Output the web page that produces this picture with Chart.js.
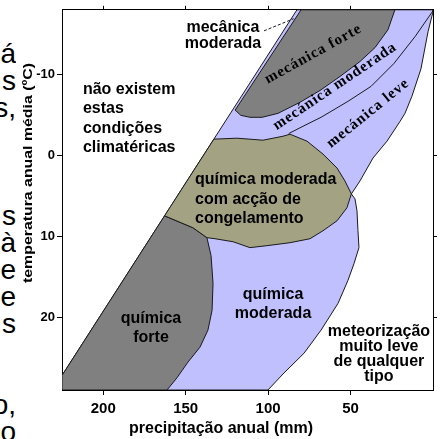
<!DOCTYPE html>
<html><head><meta charset="utf-8">
<script src="https://cdn.jsdelivr.net/npm/chart.js@4.4.0/dist/chart.umd.min.js"></script>
<style>
html,body{margin:0;padding:0;background:#fff;}
#wrap{position:relative;width:442px;height:439px;overflow:hidden;}
#side{position:absolute;left:0;top:0;width:16px;height:439px;overflow:hidden;font-family:"Liberation Sans",Arial,sans-serif;font-size:28px;color:#000;}
#side div{position:absolute;right:0;white-space:nowrap;line-height:28px;}
canvas{position:absolute;left:0;top:0;}
</style></head>
<body><div id="wrap"><div id="side"></div><canvas id="c" width="442" height="439"></canvas></div>
<script>
// ---- axis ranges & ticks ----
const xTickValues = [200, 150, 100, 50];
const yTickValues = [-10, 0, 10, 20];
const xMin = 0, xMax = 225;
const yMin = -18, yMax = 29;

// ---- region boundaries: [precipitation mm, temperature °C] ----
const regionBlue = [[225,29],[225,27.2],[82.5,-18],[0,-18],[0,-17.75],[3.0,-15.3],[7.3,-10.7],[12.8,-7.3],[17,-5.2],[20,-4.2],[27.9,-1.76],[36.4,0.33],[44.3,3.16],[49.5,4.76],[47.3,5.38],[46.1,6.85],[45.5,9.31],[44.9,11.4],[47.9,13.37],[51.6,15.46],[57.6,18.29],[67.9,21.6],[78.2,24.45],[90.4,26.9],[100.1,29],[225,29]];
const regionQuimicaForte = [[225,29],[225,27.2],[162.8,7.47],[145.6,8.94],[137.1,10.17],[134.6,12.39],[133.4,15.83],[134.0,19.16],[136.5,21.6],[141.3,23.7],[148.6,25.55],[155.3,27.5],[161.3,29],[225,29]];
const regionCongelamento = [[132.9,-2.01],[118.9,-2.13],[103.1,-1.88],[91,-2.37],[86.7,-2.62],[76.4,-1.76],[66.7,-0.16],[58.2,1.56],[53.4,3.16],[49.5,4.76],[52.2,6.48],[58.2,8.08],[66.7,9.31],[74.6,10.3],[86.7,10.79],[100.7,11.16],[111,11.4],[121.3,10.67],[132.2,10.3],[137.1,10.17],[145.6,8.94],[162.8,7.47],[132.9,-2.01]];
const regionMecanicaForte = [[120,-5.6],[80,-18],[23.1,-18],[27.3,-15.54],[35.2,-13.32],[44.3,-11.6],[56.4,-9.76],[68.5,-8.03],[80.7,-6.56],[94,-5.2],[103.7,-4.71],[111,-4.71],[116.5,-4.95],[120,-5.6]];
const lineModeradaLeve = [[87.5,-2.7],[77.6,-3.73],[67.9,-4.71],[51.6,-6.68],[37.6,-8.53],[23.7,-11.36],[10.9,-14.68],[0,-17.88]];
const linePointer = [[102.5,-15.4],[84.5,-16.9]];

// ---- labels (text + anchor in data units) ----
const regionLabels = [
  {lines:['mecânica','moderada'], x:127.4, y:-15.9, lh:16, align:'center'},
  {lines:['não existem','estas','condições','climatéricas'], x:212.3, y:-8.28, lh:19.5, align:'left'},
  {lines:['química moderada','com acção de','congelamento'], x:144.3, y:2.92, lh:19.5, align:'left'},
  {lines:['química','forte'], x:171, y:20.02, lh:19, align:'center'},
  {lines:['química','moderada'], x:97, y:17.06, lh:19, align:'center'},
  {lines:['meteorização','muito leve','de qualquer','tipo'], x:32.8, y:21.6, lh:15, align:'center'}
];
const rotatedLabels = [
  {text:'mecánica forte', x:72.5, y:-12.53, angle:-29},
  {text:'mecánica moderada', x:59.4, y:-8.53, angle:-34},
  {text:'mecánica leve', x:39.4, y:-5.2, angle:-39}
];
const xTitle = 'precipitação anual (mm)';
const yTitle = 'temperatura anual média (ºC)';
const sideLines = ['á','s','s,','','','','s','à','e','e','s','','','o,','o'];

// side text fragments
const side = document.getElementById('side');
sideLines.forEach((t,i)=>{ if(!t) return; const d=document.createElement('div'); d.textContent=t; d.style.top=(62+27*i-22)+'px'; side.appendChild(d); });

const F = '"Liberation Sans", Arial, sans-serif';
const pts = a => a.map(p => ({x:p[0], y:p[1]}));
const common = {showLine:true, pointRadius:0, pointHoverRadius:0, tension:0, borderColor:'#1a1a1a', borderWidth:1};

const textPlugin = {
  id:'regionText',
  afterDatasetsDraw(chart){
    const {ctx} = chart; const xs = chart.scales.x, ys = chart.scales.y;
    ctx.save();
    ctx.fillStyle = '#000';
    ctx.textBaseline = 'middle';
    ctx.font = 'bold 16px ' + F;
    regionLabels.forEach(l=>{
      ctx.textAlign = l.align;
      const px = xs.getPixelForValue(l.x), py = ys.getPixelForValue(l.y);
      l.lines.forEach((t,i)=>ctx.fillText(t, px, py + i*l.lh + 1));
    });
    ctx.font = 'bold 15px "Liberation Serif", "Times New Roman", serif';
    ctx.textAlign = 'center';
    try { ctx.letterSpacing = '1px'; } catch(e) {}
    rotatedLabels.forEach(l=>{
      ctx.save();
      ctx.translate(xs.getPixelForValue(l.x), ys.getPixelForValue(l.y));
      ctx.rotate(l.angle*Math.PI/180);
      ctx.fillText(l.text, 0, 0);
      ctx.restore();
    });
    try { ctx.letterSpacing = '0px'; } catch(e) {}
    // axis titles
    const ca = chart.chartArea;
    ctx.font = 'bold 16px ' + F;
    ctx.textAlign = 'center';
    ctx.fillText(xTitle, ca.left + 159, 429);
    ctx.save();
    ctx.translate(29, 173);
    ctx.rotate(-Math.PI/2);
    ctx.font = 'bold 12px ' + F;
    const w = ctx.measureText(yTitle).width;
    ctx.scale(220/w, 1);
    ctx.fillText(yTitle, 0, 0);
    ctx.restore();
    ctx.restore();
  }
};

const axisCommon = (pos, len) => ({
  type:'linear', position:pos,
  grid:{display:true, drawOnChartArea:false, drawTicks:true, tickLength:len, color:'#000', lineWidth:1},
  border:{display:true, color:'#000', width:1}
});

new Chart(document.getElementById('c'), {
  type:'scatter',
  data:{datasets:[
    Object.assign({label:'química moderada / mecânica', data:pts(regionBlue), backgroundColor:'#c0c0ff', fill:'shape', order:10}, common),
    Object.assign({label:'química forte', data:pts(regionQuimicaForte), backgroundColor:'#808080', fill:'shape', order:9}, common),
    Object.assign({label:'química moderada com acção de congelamento', data:pts(regionCongelamento), backgroundColor:'#a3a283', fill:'shape', order:8}, common),
    Object.assign({label:'mecânica forte', data:pts(regionMecanicaForte), backgroundColor:'#808080', fill:'shape', order:7}, common),
    Object.assign({label:'limite', data:pts(lineModeradaLeve), fill:false, order:2}, common),
    Object.assign({label:'seta', data:pts(linePointer), fill:false, borderDash:[3,2], order:1}, common)
  ]},
  options:{
    responsive:false, animation:false, events:[],
    layout:{padding:0},
    plugins:{legend:{display:false}, tooltip:{enabled:false}},
    scales:{
      x: Object.assign(axisCommon('bottom',5), {
        min:xMin, max:xMax, reverse:true,
        afterBuildTicks: s => { s.ticks = xTickValues.map(v=>({value:v})); },
        afterFit: s => { s.height = 49; },
        ticks:{font:{family:F, size:15, weight:'bold'}, color:'#000', padding:5, maxRotation:0, autoSkip:false}
      }),
      x2: Object.assign(axisCommon('top',4), {
        min:xMin, max:xMax, reverse:true,
        afterBuildTicks: s => { s.ticks = xTickValues.map(v=>({value:v})); },
        afterFit: s => { s.height = 8; },
        ticks:{display:false}
      }),
      y: Object.assign(axisCommon('left',5), {
        min:yMin, max:yMax, reverse:true,
        afterBuildTicks: s => { s.ticks = yTickValues.map(v=>({value:v})); },
        afterFit: s => { s.width = 62; },
        ticks:{font:{family:F, size:13, weight:'bold'}, color:'#000', padding:2, autoSkip:false}
      }),
      y2: Object.assign(axisCommon('right',4), {
        min:yMin, max:yMax, reverse:true,
        afterBuildTicks: s => { s.ticks = yTickValues.map(v=>({value:v})); },
        afterFit: s => { s.width = 9; },
        ticks:{display:false}
      })
    }
  },
  plugins:[textPlugin]
});
</script>
</body></html>
